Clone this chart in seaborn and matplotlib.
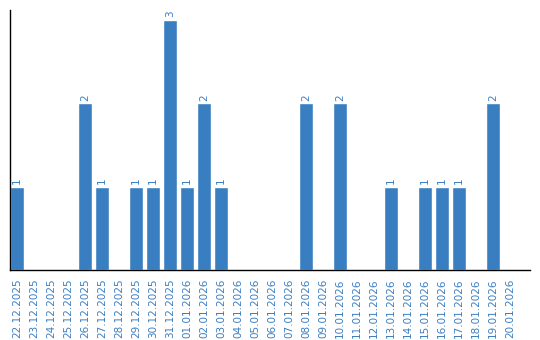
import matplotlib
matplotlib.use("Agg")
import matplotlib.pyplot as plt
import seaborn as sns
import pandas as pd

dates = ["22.12.2025", "23.12.2025", "24.12.2025", "25.12.2025", "26.12.2025",
         "27.12.2025", "28.12.2025", "29.12.2025", "30.12.2025", "31.12.2025",
         "01.01.2026", "02.01.2026", "03.01.2026", "04.01.2026", "05.01.2026",
         "06.01.2026", "07.01.2026", "08.01.2026", "09.01.2026", "10.01.2026",
         "11.01.2026", "12.01.2026", "13.01.2026", "14.01.2026", "15.01.2026",
         "16.01.2026", "17.01.2026", "18.01.2026", "19.01.2026", "20.01.2026"]
counts = [1, 0, 0, 0, 2, 1, 0, 1, 1, 3,
          1, 2, 1, 0, 0, 0, 0, 2, 0, 2,
          0, 0, 1, 0, 1, 1, 1, 0, 2, 0]

df = pd.DataFrame({"date": dates, "count": counts})

sns.set_theme(style="white")
plt.rcParams['font.family'] = ['DejaVu Sans']

BLUE = "#3a7ec2"
fig = plt.figure(figsize=(5.4, 3.4), dpi=100)
ax = fig.add_axes([10/540, 70/340, 520/540, 260/340])

sns.barplot(data=df, x="date", y="count", color=BLUE, saturation=1,
            width=0.84, ax=ax)

ax.set_xlim(-0.42, 30.18)
ax.set_ylim(0, 3.12)
ax.set_xlabel("")
ax.set_ylabel("")
ax.set_yticks([])
ax.tick_params(axis="x", length=0, pad=6, labelsize=7.5, labelcolor=BLUE,
               labelrotation=90)
for s in ["top", "right"]:
    ax.spines[s].set_visible(False)
for s in ["left", "bottom"]:
    ax.spines[s].set_color("black")
    ax.spines[s].set_linewidth(1.0)

labels = ["" if v == 0 else str(v) for v in counts]
ax.bar_label(ax.containers[0], labels=labels, rotation=90, padding=2,
             fontsize=7.5, color=BLUE)

fig.savefig("out.png", dpi=100)
